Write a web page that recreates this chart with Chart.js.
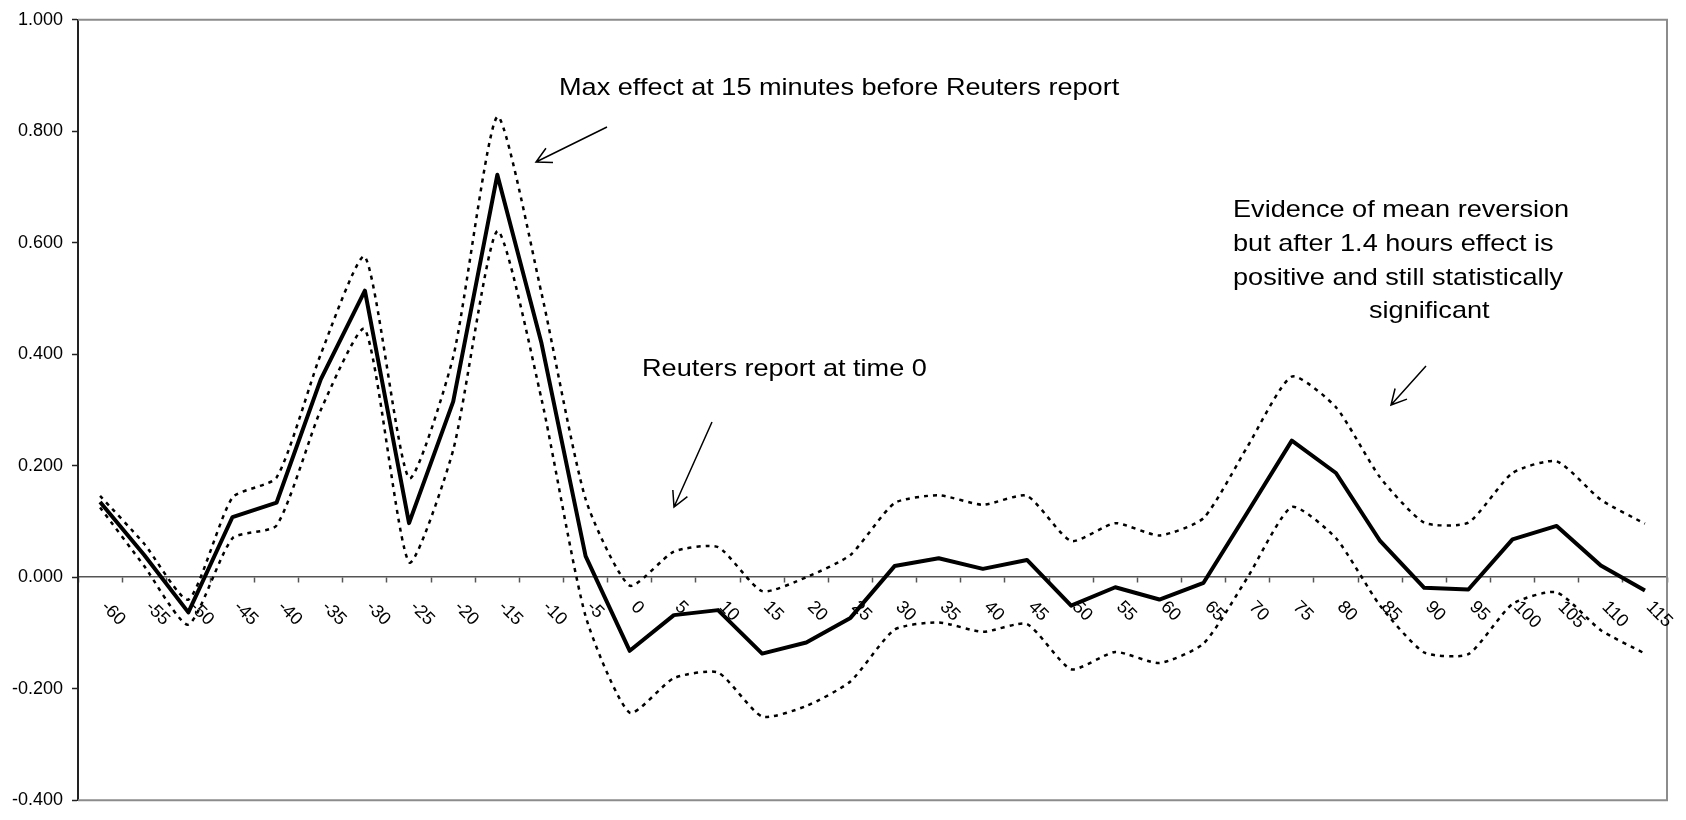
<!DOCTYPE html>
<html>
<head>
<meta charset="utf-8">
<title>Effect around Reuters report</title>
<script src="https://cdn.jsdelivr.net/npm/chart.js@4.4.1/dist/chart.umd.min.js"></script>
<style>
  html, body { margin: 0; padding: 0; background: #fff; }
  canvas { display: block; }
</style>
</head>
<body>
<canvas id="effectChart" width="1686" height="820"></canvas>
<script>
// minutes relative to the Reuters report
const minutes = [-60, -55, -50, -45, -40, -35, -30, -25, -20, -15, -10, -5, 0, 5, 10, 15, 20, 25,
  30, 35, 40, 45, 50, 55, 60, 65, 70, 75, 80, 85, 90, 95, 100, 105, 110, 115];

const estimate = [0.135, 0.040, -0.063, 0.108, 0.134, 0.355, 0.514, 0.097, 0.315, 0.722, 0.420, 0.038,
  -0.132, -0.068, -0.059, -0.137, -0.117, -0.073, 0.020, 0.034, 0.015, 0.031, -0.051, -0.018,
  -0.040, -0.010, 0.117, 0.245, 0.187, 0.065, -0.019, -0.022, 0.068, 0.092, 0.021, -0.024];

const upperBand = [0.146, 0.060, -0.040, 0.143, 0.179, 0.400, 0.575, 0.178, 0.395, 0.826, 0.510, 0.140,
  -0.015, 0.046, 0.054, -0.025, 0.000, 0.040, 0.133, 0.147, 0.130, 0.146, 0.065, 0.097,
  0.075, 0.106, 0.235, 0.360, 0.305, 0.179, 0.098, 0.098, 0.187, 0.208, 0.139, 0.096];

const lowerBand = [0.125, 0.020, -0.085, 0.070, 0.093, 0.300, 0.445, 0.027, 0.228, 0.621, 0.320, -0.070,
  -0.243, -0.181, -0.171, -0.250, -0.231, -0.187, -0.094, -0.081, -0.098, -0.084, -0.165, -0.134,
  -0.154, -0.119, 0.000, 0.126, 0.070, -0.051, -0.135, -0.138, -0.048, -0.027, -0.095, -0.137];

const yTicks = [-0.4, -0.2, 0, 0.2, 0.4, 0.6, 0.8, 1.0];

// text notes and arrows (canvas pixels)
const notes = [
  { text: 'Max effect at 15 minutes before Reuters report', x: 559, y: 95 },
  { text: 'Reuters report at time 0', x: 642, y: 376 },
  { text: 'Evidence of mean reversion', x: 1233, y: 217 },
  { text: 'but after 1.4 hours effect is', x: 1233, y: 251 },
  { text: 'positive and still statistically', x: 1233, y: 285 },
  { text: 'significant', x: 1369, y: 318 }
];
const arrows = [
  { from: [607, 127], to: [536, 162] },
  { from: [712, 422], to: [674, 507] },
  { from: [1426, 366], to: [1391, 405] }
];

const FONT = '"Liberation Sans", Arial, sans-serif';

const frameAndLabels = {
  id: 'frameAndLabels',
  beforeDatasetsDraw(chart) {
    const { ctx, chartArea: a, scales: { x, y } } = chart;
    ctx.save();
    // plot frame (top, right, bottom)
    ctx.strokeStyle = '#8c8c8c';
    ctx.lineWidth = 2;
    ctx.beginPath();
    ctx.moveTo(a.left, a.top);
    ctx.lineTo(a.right, a.top);
    ctx.lineTo(a.right, a.bottom);
    ctx.lineTo(a.left, a.bottom);
    ctx.stroke();

    // rotated category labels hanging under the zero line
    const base = y.getPixelForValue(0);
    ctx.font = '18px ' + FONT;
    ctx.fillStyle = '#000';
    ctx.textAlign = 'left';
    ctx.textBaseline = 'middle';
    x.ticks.forEach((t, i) => {
      ctx.save();
      ctx.translate(x.getPixelForTick(i) + 4, base + 27);
      ctx.rotate(Math.PI / 4);
      ctx.fillText(x.getLabelForValue(t.value), 0, 0);
      ctx.restore();
    });

    // notes
    ctx.font = '24px ' + FONT;
    ctx.textBaseline = 'alphabetic';
    notes.forEach(n => {
      ctx.save();
      ctx.translate(n.x, n.y);
      ctx.scale(1.13, 1);
      ctx.fillText(n.text, 0, 0);
      ctx.restore();
    });

    // arrows
    ctx.strokeStyle = '#000';
    ctx.lineWidth = 1.5;
    arrows.forEach(ar => {
      const [x1, y1] = ar.from, [x2, y2] = ar.to;
      const ang = Math.atan2(y1 - y2, x1 - x2);
      const len = 17, spread = 28 * Math.PI / 180;
      ctx.beginPath();
      ctx.moveTo(x1, y1);
      ctx.lineTo(x2, y2);
      ctx.moveTo(x2 + len * Math.cos(ang - spread), y2 + len * Math.sin(ang - spread));
      ctx.lineTo(x2, y2);
      ctx.lineTo(x2 + len * Math.cos(ang + spread), y2 + len * Math.sin(ang + spread));
      ctx.stroke();
    });
    ctx.restore();
  }
};

const ctx = document.getElementById('effectChart').getContext('2d');
new Chart(ctx, {
  type: 'line',
  data: {
    labels: minutes.map(String),
    datasets: [
      {
        label: 'Upper',
        data: upperBand,
        borderColor: '#000',
        borderWidth: 2.5,
        borderDash: [4, 5],
        tension: 0.2,
        pointRadius: 0,
        fill: false
      },
      {
        label: 'Lower',
        data: lowerBand,
        borderColor: '#000',
        borderWidth: 2.5,
        borderDash: [4, 5],
        tension: 0.2,
        pointRadius: 0,
        fill: false
      },
      {
        label: 'Effect',
        data: estimate,
        borderColor: '#000',
        borderWidth: 4,
        borderJoinStyle: 'round',
        tension: 0,
        pointRadius: 0,
        fill: false
      }
    ]
  },
  options: {
    responsive: false,
    animation: false,
    layout: { padding: { left: 0, top: 17, right: 19, bottom: 11 } },
    plugins: {
      legend: { display: false },
      tooltip: { enabled: false }
    },
    scales: {
      x: {
        position: { y: 0 },
        offset: true,
        grid: {
          offset: true,
          drawOnChartArea: false,
          drawTicks: true,
          tickLength: 5,
          tickColor: '#555',
          tickWidth: 1.5
        },
        border: { display: true, color: '#555', width: 1.5 },
        ticks: { display: false }
      },
      y: {
        min: -0.4,
        max: 1.0,
        afterFit(scale) { scale.width = 78; },
        afterBuildTicks(scale) { scale.ticks = yTicks.map(v => ({ value: v })); },
        grid: {
          drawOnChartArea: false,
          drawTicks: true,
          tickLength: 6,
          tickColor: '#222',
          tickWidth: 1.5
        },
        border: { display: true, color: '#222', width: 2 },
        ticks: {
          padding: 9,
          color: '#000',
          font: { family: FONT, size: 18 },
          callback: v => v.toFixed(3)
        }
      }
    }
  },
  plugins: [frameAndLabels]
});
</script>
</body>
</html>
